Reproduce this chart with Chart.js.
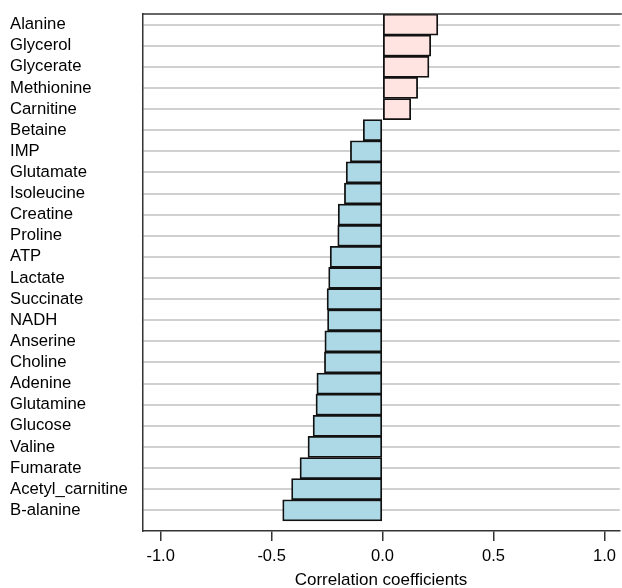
<!DOCTYPE html>
<html>
<head>
<meta charset="utf-8">
<script src="https://cdn.jsdelivr.net/npm/chart.js@4"></script>
<style>
  html, body { margin: 0; padding: 0; background: #fff; }
  #wrap { width: 622px; height: 588px; }
</style>
</head>
<body>
<div id="wrap"><canvas id="corrChart"></canvas></div>
<script>
const metabolites = ['Alanine', 'Glycerol', 'Glycerate', 'Methionine', 'Carnitine', 'Betaine', 'IMP',
    'Glutamate', 'Isoleucine', 'Creatine', 'Proline', 'ATP', 'Lactate', 'Succinate', 'NADH',
    'Anserine', 'Choline', 'Adenine', 'Glutamine', 'Glucose', 'Valine', 'Fumarate',
    'Acetyl_carnitine', 'B-alanine'];
const correlations = [0.249, 0.217, 0.209, 0.158, 0.127, -0.087, -0.145,
    -0.164, -0.172, -0.200, -0.202, -0.236, -0.243, -0.250, -0.248,
    -0.260, -0.262, -0.296, -0.300, -0.313, -0.336, -0.372,
    -0.410, -0.450];
const xTicks = [-1.0, -0.5, 0.0, 0.5, 1.0];

document.addEventListener('DOMContentLoaded', () => {
    // top edge of the plot box (left and bottom come from the axis borders)
    const boxTop = {
        id: 'boxTop',
        afterDraw(chart) {
            const { ctx, chartArea } = chart;
            ctx.save();
            ctx.strokeStyle = '#333';
            ctx.lineWidth = 1.5;
            ctx.beginPath();
            ctx.moveTo(chartArea.left, chartArea.top);
            ctx.lineTo(chartArea.right + 2, chartArea.top);
            ctx.stroke();
            ctx.restore();
        }
    };

    const ctx = document.getElementById('corrChart').getContext('2d');
    new Chart(ctx, {
        type: 'bar',
        data: {
            datasets: [{
                data: correlations.map((v, i) => ({ x: v, y: i })),
                backgroundColor: correlations.map(v => v > 0 ? '#FFE4E1' : '#ADD8E6'),
                borderColor: '#111',
                borderWidth: 1.8,
                borderSkipped: false,
                barPercentage: 1,
                categoryPercentage: 1
            }]
        },
        options: {
            indexAxis: 'y',
            responsive: true,
            maintainAspectRatio: false,
            animation: false,
            layout: { padding: { top: 10, left: 10, right: 0, bottom: 0 } },
            plugins: {
                legend: { display: false },
                tooltip: { enabled: false }
            },
            scales: {
                x: {
                    type: 'linear',
                    min: -1.0825,
                    max: 1.0686,
                    afterBuildTicks: s => { s.ticks = xTicks.map(v => ({ value: v })); },
                    afterFit: s => { s.height = 57; },
                    grid: {
                        drawOnChartArea: false,
                        drawTicks: true,
                        tickLength: 10,
                        color: '#333',
                        lineWidth: 1.5
                    },
                    border: { display: true, color: '#333', width: 1.5 },
                    ticks: {
                        color: '#000',
                        padding: 6,
                        maxRotation: 0,
                        autoSkip: false,
                        font: { family: 'Liberation Sans, Arial, sans-serif', size: 16.5 },
                        callback: v => v.toFixed(1)
                    },
                    title: {
                        display: true,
                        text: 'Correlation coefficients',
                        color: '#000',
                        padding: { top: 0, bottom: 0 },
                        font: { family: 'Liberation Sans, Arial, sans-serif', size: 17, lineHeight: 0.85 }
                    }
                },
                y: {
                    type: 'linear',
                    reverse: true,
                    offset: false,
                    min: -0.5,
                    max: 23.98,
                    afterBuildTicks: s => { s.ticks = metabolites.map((_, i) => ({ value: i })); },
                    afterFit: s => { s.width = 132.3; },
                    grid: {
                        offset: false,
                        color: '#d0d0d0',
                        lineWidth: 2,
                        drawTicks: false
                    },
                    border: { display: true, color: '#333', width: 1.5 },
                    ticks: {
                        color: '#000',
                        crossAlign: 'far',
                        padding: 4,
                        autoSkip: false,
                        font: { family: 'Liberation Sans, Arial, sans-serif', size: 16.7 },
                        callback: v => metabolites[v] ?? ''
                    }
                }
            }
        },
        plugins: [boxTop]
    });
});
</script>
</body>
</html>
